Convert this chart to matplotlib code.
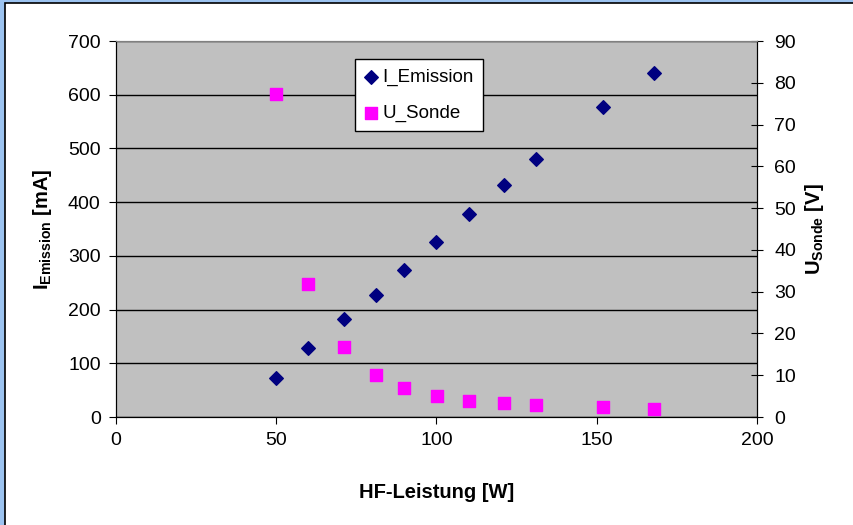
import matplotlib.pyplot as plt
from matplotlib.patches import Rectangle

plt.rcParams['font.family'] = ['Liberation Sans', 'DejaVu Sans']
plt.rcParams['mathtext.fontset'] = 'custom'
plt.rcParams['mathtext.rm'] = 'Liberation Sans'
plt.rcParams['mathtext.bf'] = 'Liberation Sans:bold'

# Messwerte
leistung = [50, 60, 71, 81, 90, 100, 110, 121, 131, 152, 168]
i_emission = [73, 129, 182, 227, 273, 326, 378, 431, 480, 578, 641]
u_sonde = [77.2, 31.8, 16.8, 10.0, 6.9, 5.1, 3.8, 3.3, 2.9, 2.4, 2.0]

fig = plt.figure(figsize=(8.54, 5.25), dpi=100)
fig.patches.append(Rectangle((0, 0), 1, 1, transform=fig.transFigure,
                             facecolor='#9CC3F0', edgecolor='none', zorder=-2))
fig.patches.append(Rectangle((5 / 854, -0.1), 1, 1 + 0.1 - 3 / 525, transform=fig.transFigure,
                             facecolor='white', edgecolor='black', lw=1.2, zorder=-1))

ax = fig.add_axes([116 / 854, 1 - 417 / 525, 641 / 854, 376 / 525])
ax2 = ax.twinx()

ax.set_facecolor('#C0C0C0')
ax.set_xlim(0, 200)
ax.set_ylim(0, 700)
ax2.set_ylim(0, 90)
ax.set_xticks(range(0, 201, 50))
ax.set_yticks(range(0, 701, 100))
ax2.set_yticks(range(0, 91, 10))
ax.yaxis.grid(True, color='black', lw=1)
ax.set_axisbelow(True)

for a in (ax, ax2):
    a.spines['top'].set_color('#808080')
    a.spines['left'].set_color('black')
    a.spines['bottom'].set_color('black')
    a.spines['right'].set_color('black')
ax.tick_params(axis='both', direction='out', length=5, labelsize=14, pad=6)
ax2.tick_params(axis='y', direction='inout', length=9, labelsize=14, pad=8)

p1 = ax.scatter(leistung, i_emission, marker='D', s=48, color='#000080',
                label='I_Emission', zorder=3)
p2 = ax2.scatter(leistung, u_sonde, marker='s', s=70, color='#FF00FF',
                 label='U_Sonde', zorder=3)

ax.set_xlabel('HF-Leistung [W]', fontsize=14.5, fontweight='bold', labelpad=24)
ax.set_ylabel(r'$\mathbf{I_{Emission}}$ [mA]', fontsize=14.5, fontweight='bold', labelpad=10)
ax2.set_ylabel(r'$\mathbf{U_{Sonde}}$ [V]', fontsize=14.5, fontweight='bold', labelpad=5)

leg = ax2.legend(handles=[p1, p2], loc='upper left', bbox_to_anchor=(0.373, 0.952),
                 borderaxespad=0, fontsize=13.5, frameon=True, fancybox=False,
                 edgecolor='black', framealpha=1, borderpad=0.5, labelspacing=1.0,
                 handletextpad=0.25, handlelength=0.7)
leg.get_frame().set_linewidth(1)

fig.savefig('out.png', dpi=100)
